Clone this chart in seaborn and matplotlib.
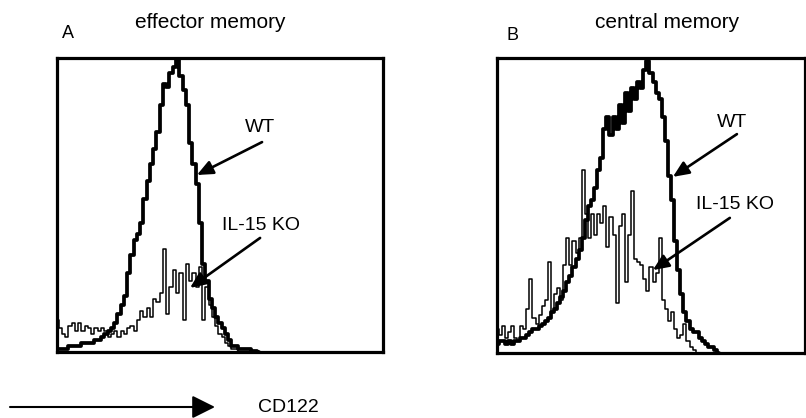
import matplotlib
matplotlib.use("Agg")
import matplotlib.pyplot as plt
import numpy as np
import pandas as pd
import seaborn as sns

# ---- data: histogram counts per channel (scaled so 100 = top of panel) ----
panel_titles = ["effector memory", "central memory"]
panel_letters = ["A", "B"]
series_labels = ["WT", "IL-15 KO"]
axis_label = "CD122"

wt_a = [1, 1, 1, 1, 2, 2, 2, 2, 3, 3, 3, 3, 4, 4, 5, 6, 7, 8, 10, 13,
        16, 19, 27, 33, 38, 40, 44, 52, 58, 64, 69, 75, 84, 91, 90, 95, 97, 100, 94, 89,
        84, 71, 64, 57, 44, 30, 24, 18, 15, 12, 10, 8, 6, 4, 2, 2, 1, 1, 1, 1,
        0.5, 0.5, 0]
ko_a = [11, 8, 6, 5, 9, 10, 7, 10, 7, 9, 8, 6, 8, 7, 8, 7, 5, 6, 7, 5,
        7, 6, 8, 9, 7, 11, 14, 12, 15, 12, 18, 17, 20, 35, 13, 22, 28, 20, 27, 11,
        30, 24, 27, 22, 29, 11, 22, 16, 12, 9, 6, 5, 3, 2, 1, 1, 0]
wt_b = [3, 4, 4, 3, 4, 3, 4, 4, 5, 5, 6, 7, 8, 8, 9, 10, 11, 12, 14, 15,
        17, 19, 21, 24, 26, 29, 32, 35, 39, 45, 50, 52, 56, 62, 66, 76, 80, 74, 80, 76,
        84, 78, 88, 82, 90, 86, 92, 90, 96, 99, 95, 92, 88, 86, 80, 72, 60, 52, 38, 28,
        20, 14, 11, 8, 7, 7, 5, 4, 3, 2, 2, 1, 0]
ko_b = [8, 6, 9, 5, 7, 9, 5, 4, 9, 8, 15, 25, 12, 10, 13, 16, 18, 31, 14, 20,
        22, 18, 30, 39, 30, 38, 34, 39, 62, 47, 39, 47, 40, 47, 44, 50, 36, 46, 40, 17,
        43, 47, 24, 40, 55, 32, 31, 30, 25, 21, 29, 24, 27, 39, 18, 15, 11, 14, 8, 5,
        6, 10, 4, 2, 1, 0]

sns.set_theme(style="white")
plt.rcParams["font.family"] = ["Liberation Sans", "DejaVu Sans"]
plt.rcParams["text.color"] = "black"

W, H = 806, 418
fig = plt.figure(figsize=(W / 100, H / 100), dpi=100)
fig.patch.set_facecolor("white")

axA = fig.add_axes([57 / W, (H - 352) / H, 326 / W, 294 / H])
axB = fig.add_axes([497 / W, (H - 353) / H, 308 / W, 295 / H])


def draw(ax, wt, ko):
    dko = pd.DataFrame({"channel": np.arange(len(ko)), "count": ko})
    dwt = pd.DataFrame({"channel": np.arange(len(wt)), "count": wt})
    sns.lineplot(data=dko, x="channel", y="count", ax=ax, color="black",
                 lw=1.1, drawstyle="steps-mid", estimator=None)
    sns.lineplot(data=dwt, x="channel", y="count", ax=ax, color="black",
                 lw=2.7, drawstyle="steps-mid", estimator=None)
    ax.set_xlim(0, 100)
    ax.set_ylim(0, 100)
    ax.set_xticks([])
    ax.set_yticks([])
    ax.set_xlabel("")
    ax.set_ylabel("")
    for s in ax.spines.values():
        s.set_visible(True)
        s.set_color("black")
        s.set_linewidth(2.3)
    ax.set_facecolor("white")


draw(axA, wt_a, ko_a)
draw(axB, wt_b, ko_b)

arrow = dict(arrowstyle="-|>,head_length=0.8,head_width=0.35", color="black",
             lw=1.9, shrinkA=0, shrinkB=0)
fs = 14

# panel A annotations
axA.text(62.3, 76.2, series_labels[0], ha="center", va="center", fontsize=fs, color="black")
axA.annotate("", xy=(42.9, 60.2), xytext=(62.9, 71.4), arrowprops=arrow)
axA.text(62.6, 42.9, series_labels[1], ha="center", va="center", fontsize=fs, color="black")
axA.annotate("", xy=(40.8, 21.8), xytext=(62.3, 38.8), arrowprops=arrow)

# panel B annotations
axB.text(76.3, 78.3, series_labels[0], ha="center", va="center", fontsize=fs, color="black")
axB.annotate("", xy=(57.1, 59.7), xytext=(77.9, 74.2), arrowprops=arrow)
axB.text(77.3, 50.2, series_labels[1], ha="center", va="center", fontsize=fs, color="black")
axB.annotate("", xy=(50.6, 28.1), xytext=(75.6, 45.8), arrowprops=arrow)

# titles and letters
fig.text(210 / W, 1 - 22 / H, panel_titles[0], ha="center", va="center", fontsize=15, color="black")
fig.text(667 / W, 1 - 22 / H, panel_titles[1], ha="center", va="center", fontsize=15, color="black")
fig.text(68 / W, 1 - 34 / H, panel_letters[0], ha="center", va="center", fontsize=13, color="black")
fig.text(513 / W, 1 - 35 / H, panel_letters[1], ha="center", va="center", fontsize=13, color="black")

# bottom axis arrow and label
fig.patches.append(matplotlib.patches.FancyArrowPatch(
    (10 / W, 1 - 407 / H), (215 / W, 1 - 407 / H), transform=fig.transFigure,
    arrowstyle="-|>,head_length=1.0,head_width=0.5", color="black", lw=1.5,
    mutation_scale=14, shrinkA=0, shrinkB=0))
fig.text(288 / W, 1 - 407 / H, axis_label, ha="center", va="center", fontsize=14, color="black")

fig.savefig("out.png", dpi=100, facecolor="white")
